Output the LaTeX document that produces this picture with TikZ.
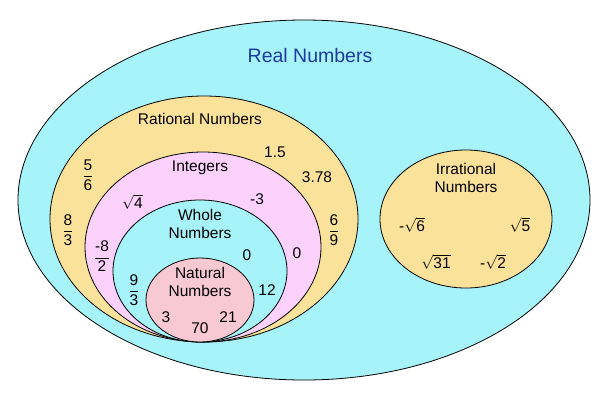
\documentclass[tikz,border=0pt]{standalone}
\usepackage{fontspec}
\setmainfont{Liberation Sans}
\definecolor{realc}{HTML}{A6F3FA}
\definecolor{ratc}{HTML}{FBE29B}
\definecolor{intc}{HTML}{FCD2FC}
\definecolor{natc}{HTML}{F9C9D3}
\definecolor{titlec}{HTML}{1E3A9E}
\newcommand{\fr}[2]{$\displaystyle\frac{\hbox{#1}}{\hbox{#2}}$}
\newcommand{\rt}[1]{$\sqrt{\hbox{#1}}$}
\begin{document}
\begin{tikzpicture}[x=1pt,y=-1pt,
  setline/.style={draw=black,line width=0.8pt},
  lbl/.style={inner sep=0pt,font=\fontsize{15.5}{17.5}\selectfont,align=center}]
\useasboundingbox (0,0) rectangle (600,400);
\fill[white] (0,0) rectangle (600,400);
\path[setline,fill=realc] (304,200) ellipse [x radius=286,y radius=180];
\path[setline,fill=ratc] (204,219) ellipse [x radius=154,y radius=123];
\path[setline,fill=intc] (203,247) ellipse [x radius=118,y radius=95];
\path[setline,fill=realc] (200,271) ellipse [x radius=87,y radius=71];
\path[setline,fill=natc] (200,300) ellipse [x radius=54,y radius=42];
\path[setline,fill=ratc] (466,219) ellipse [x radius=86,y radius=69];

\node[lbl,text=titlec,font=\fontsize{19.5}{22}\selectfont] (real) at (310,56) {Real Numbers};
\node[lbl] (rat) at (200,119) {Rational Numbers};
\node[lbl] (n15) at (275,152) {1.5};
\node[lbl] (n378) at (317,177.5) {3.78};
\node[lbl] (f56) at (88,175) {\fr{5}{6}};
\node[lbl] (f83) at (68,230) {\fr{8}{3}};
\node[lbl] (f69) at (334,230) {\fr{6}{9}};
\node[lbl] (int) at (200,167.5) {Integers};
\node[lbl] (r4) at (132.5,202) {\rt{4}};
\node[lbl] (m3) at (257,199) {-3};
\node[lbl] (f82) at (102,256) {\fr{-8}{2}};
\node[lbl] (zero2) at (297,253) {0};
\node[lbl] (whole) at (200,224) {Whole\\Numbers};
\node[lbl] (zero1) at (247,255) {0};
\node[lbl] (f93) at (134,290) {\fr{9}{3}};
\node[lbl] (n12) at (267,290) {12};
\node[lbl] (nat) at (200,282) {Natural\\Numbers};
\node[lbl] (n3) at (166,317) {3};
\node[lbl] (n70) at (200,328) {70};
\node[lbl] (n21) at (228,317) {21};
\node[lbl] (irr) at (466,178) {Irrational\\Numbers};
\node[lbl] (r6) at (412,225) {-\rt{6}};
\node[lbl] (r5) at (520,225) {\rt{5}};
\node[lbl] (r31) at (436,262) {\rt{31}};
\node[lbl] (r2) at (493,262) {-\rt{2}};
\end{tikzpicture}
\end{document}
